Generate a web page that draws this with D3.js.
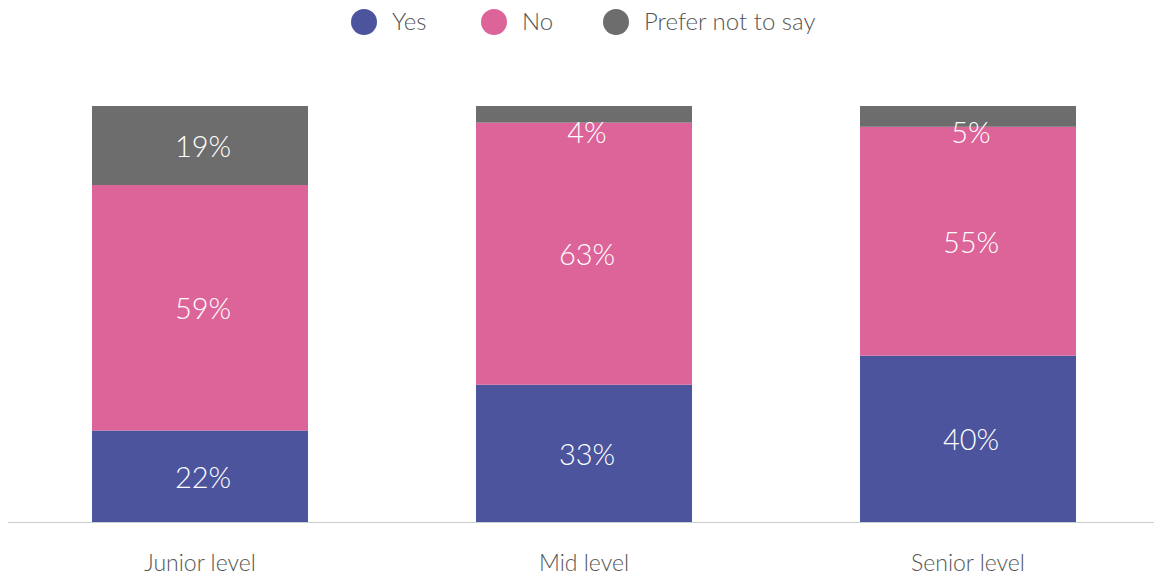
<!DOCTYPE html>
<html>
<head>
<meta charset="utf-8">
<script src="https://cdn.jsdelivr.net/npm/d3@7"></script>
<style>
  body { margin: 0; background: #fff; }
  svg { display: block; font-family: Lato, 'Open Sans', sans-serif; }
</style>
</head>
<body>
<div id="chart"></div>
<script>
const categories = ['Junior level', 'Mid level', 'Senior level']
const seriesNames = ['Yes', 'No', 'Prefer not to say']
const yesValues = [22, 33, 40]
const noValues = [59, 63, 55]
const preferValues = [19, 4, 5]
const colors = ['#4b549c', '#dc6499', '#6d6d6d']

const width = 1154
const height = 576

const rows = categories.map((c, i) => ({
  cat: c,
  'Yes': yesValues[i],
  'No': noValues[i],
  'Prefer not to say': preferValues[i],
}))

const stack = d3.stack().keys(seriesNames)(rows)

const x = d3.scaleBand()
  .domain(categories)
  .range([8, 1160])
  .paddingInner(0.4375)
  .paddingOuter(0.21875)

const y = d3.scaleLinear().domain([0, 100]).range([522, 106])

const color = d3.scaleOrdinal().domain(seriesNames).range(colors)

const svg = d3.select('#chart')
  .append('svg')
  .attr('width', width)
  .attr('height', height)

const layer = svg.selectAll('g.layer')
  .data(stack)
  .join('g')
  .attr('class', 'layer')
  .attr('fill', (d) => color(d.key))

layer.selectAll('rect')
  .data((d) => d)
  .join('rect')
  .attr('x', (d) => x(d.data.cat))
  .attr('y', (d) => y(d[1]))
  .attr('width', x.bandwidth())
  .attr('height', (d) => y(d[0]) - y(d[1]))

// value labels, small segments pushed down a bit
layer.selectAll('text')
  .data((d) => d.map((p) => ({ p, key: d.key })))
  .join('text')
  .attr('x', (d) => x(d.p.data.cat) + x.bandwidth() / 2 + 3)
  .attr('y', (d) => Math.max((y(d.p[0]) + y(d.p[1])) / 2, 131) + 1.5)
  .attr('dy', '0.35em')
  .attr('text-anchor', 'middle')
  .attr('fill', '#fff')
  .style('font-size', '29px')
  .style('font-weight', 300)
  .text((d) => d.p.data[d.key] + '%')

// baseline
svg.append('line')
  .attr('x1', 8)
  .attr('x2', width)
  .attr('y1', 522.5)
  .attr('y2', 522.5)
  .attr('stroke', '#cccccc')
  .attr('stroke-width', 1)

const xAxis = d3.axisBottom(x).tickSize(0).tickPadding(0)
const axisG = svg.append('g')
  .attr('transform', 'translate(0,555)')
  .call(xAxis)
axisG.select('.domain').remove()
axisG.selectAll('text')
  .attr('fill', '#555')
  .style('font-family', 'Lato, sans-serif')
  .style('font-size', '23px')
  .style('font-weight', 300)

// legend
const legendX = [364, 494, 616]
const legend = svg.selectAll('g.legend')
  .data(seriesNames)
  .join('g')
  .attr('class', 'legend')
  .attr('transform', (d, i) => `translate(${legendX[i]},22)`)

legend.append('circle')
  .attr('r', 13)
  .attr('fill', (d) => color(d))

legend.append('text')
  .attr('x', 28)
  .attr('dy', '0.35em')
  .attr('fill', '#555')
  .style('font-size', '24px')
  .style('font-weight', 300)
  .text((d) => d)
</script>
</body>
</html>
